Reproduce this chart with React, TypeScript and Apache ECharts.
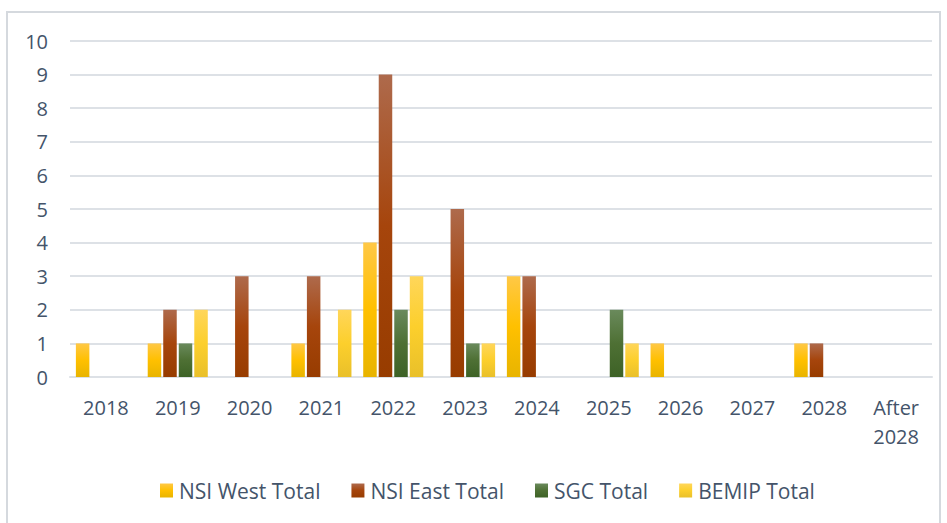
import React, { useEffect, useRef } from "react";
import * as echarts from "echarts";

const categories = ["2018", "2019", "2020", "2021", "2022", "2023", "2024", "2025", "2026", "2027", "2028", "After\n2028"];
const nsiWest = [1, 1, 0, 1, 4, 0, 3, 0, 1, 0, 1, 0];
const nsiEast = [0, 2, 3, 3, 9, 5, 3, 0, 0, 0, 1, 0];
const sgc = [0, 1, 0, 0, 2, 1, 0, 2, 0, 0, 0, 0];
const bemip = [0, 2, 0, 2, 3, 1, 0, 1, 0, 0, 0, 0];

const grad = (stops: [number, string][]) =>
  new echarts.graphic.LinearGradient(0, 0, 0, 1, stops.map(([offset, color]) => ({ offset, color })));

const FONT = "'Open Sans', sans-serif";
const TXT = "#44546A";
const LINE = "#DDE1E6";

export default function App() {
  const ref = useRef<HTMLDivElement>(null);
  useEffect(() => {
    const chart = echarts.init(ref.current!, null, { renderer: "svg" });
    const mk = (name: string, data: number[], color: any) => ({
      name,
      type: "bar",
      data: data.map((v) => (v === 0 ? null : v)),
      barWidth: 13.5,
      barGap: "15%",
      itemStyle: { color },
    });
    chart.setOption({
      animation: false,
      backgroundColor: "#fff",
      graphic: [
        {
          type: "rect",
          z: 100,
          shape: { x: 7, y: 12, width: 933, height: 520 },
          style: { fill: "transparent", stroke: "#D5D9DE", lineWidth: 2 },
          silent: true,
        },
      ],
      grid: { left: 70, right: 15, top: 41, bottom: 146, containLabel: false },
      legend: {
        top: 475,
        left: 155,
        itemWidth: 13,
        itemHeight: 14,
        itemGap: 31,
        icon: "rect",
        textStyle: { color: TXT, fontSize: 21, fontFamily: FONT, padding: [0, 0, 0, 1] },
        data: ["NSI West Total", "NSI East Total", "SGC Total", "BEMIP Total"],
      },
      xAxis: {
        type: "category",
        data: categories,
        axisLine: { show: true, lineStyle: { color: LINE, width: 2 } },
        axisTick: { show: false },
        axisLabel: { color: TXT, fontSize: 20, fontFamily: FONT, margin: 16, lineHeight: 29 },
      },
      yAxis: {
        type: "value",
        min: 0,
        max: 10,
        interval: 1,
        axisLine: { show: false },
        axisTick: { show: false },
        axisLabel: { color: TXT, fontSize: 20, fontFamily: FONT, margin: 22 },
        splitLine: { lineStyle: { color: LINE, width: 2 } },
      },
      series: [
        mk("NSI West Total", nsiWest, grad([[0, "#FFC846"], [0.5, "#FFC000"], [1, "#E8B400"]])),
        mk("NSI East Total", nsiEast, grad([[0, "#AE6A4C"], [0.5, "#A6450C"], [1, "#973C00"]])),
        mk("SGC Total", sgc, grad([[0, "#6A8A5C"], [0.5, "#4E7034"], [1, "#3D6226"]])),
        mk("BEMIP Total", bemip, grad([[0, "#FFD65A"], [0.5, "#FCCF2C"], [1, "#E9C02A"]])),
      ],
    });
    return () => chart.dispose();
  }, []);
  return <div ref={ref} style={{ position: "fixed", left: 0, top: 0, width: 947, height: 523 }} />;
}
